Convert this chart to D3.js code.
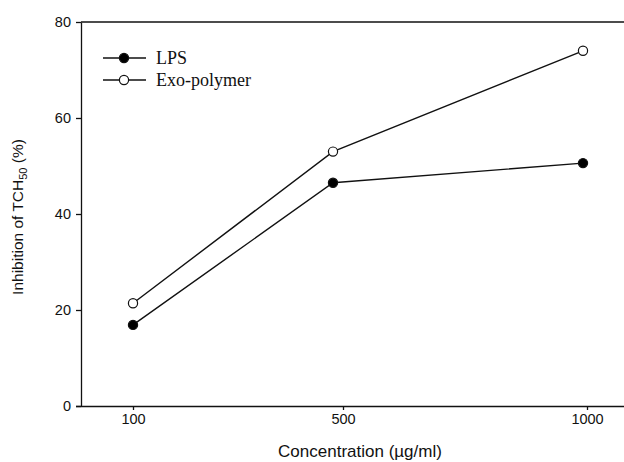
<!DOCTYPE html>
<html>
<head>
<meta charset="utf-8">
<script src="https://cdn.jsdelivr.net/npm/d3@7"></script>
<style>
  body { margin: 0; background: #fff; }
  svg { display: block; }
  .axis text { font-family: "Liberation Sans", Arial, sans-serif; font-size: 14.5px; fill: #111; }
  .axis path, .axis line { stroke: #111; stroke-width: 1.3; }
</style>
</head>
<body>
<div id="chart"></div>
<script>
// values
var concentrations = [100, 500, 1000];
var lpsValues = [16.9, 46.5, 50.6];
var exoValues = [21.4, 53.0, 74.0];
var seriesNames = ["LPS", "Exo-polymer"];
var yTicks = [0, 20, 40, 60, 80];
// the printed x tick marks sit a little right of the points
var xTickAt = [100, 520, 1008];
var xTickLabels = ["100", "500", "1000"];

var width = 624, height = 462,
    margin = {top: 22, bottom: 56, left: 81, right: 0};

var svg = d3.select("#chart")
  .append("svg")
  .attr("width", width)
  .attr("height", height);

var xScale = d3.scaleLinear()
  .domain([-4, 1100])
  .range([margin.left, 633]);

var yScale = d3.scaleLinear()
  .domain([0, 80])
  .range([height - margin.bottom, margin.top]);

// x axis
svg.append("g")
  .attr("class", "axis")
  .attr("transform", "translate(0," + yScale(0) + ")")
  .call(d3.axisBottom(xScale)
    .tickValues(xTickAt)
    .tickFormat(function(d, i) { return xTickLabels[i]; })
    .tickSize(4)
    .tickPadding(4)
    .tickSizeOuter(0))
  .select(".domain").attr("d", "M" + (margin.left - 5) + ",0.5H" + width);

// y axis
svg.append("g")
  .attr("class", "axis")
  .attr("transform", "translate(" + margin.left + ",0)")
  .call(d3.axisLeft(yScale)
    .tickValues(yTicks)
    .tickSize(5)
    .tickPadding(5)
    .tickSizeOuter(0));

// top frame line
svg.append("line")
  .attr("x1", margin.left).attr("x2", width)
  .attr("y1", yScale(80)).attr("y2", yScale(80))
  .attr("stroke", "#111").attr("stroke-width", 1.3);

// axis titles
svg.append("text")
  .attr("x", 360).attr("y", 457)
  .attr("text-anchor", "middle")
  .style("font-family", "Liberation Sans, Arial, sans-serif")
  .style("font-size", "17px")
  .attr("fill", "#111")
  .text("Concentration (\u00b5g/ml)");

var yTitle = svg.append("text")
  .attr("transform", "translate(23," + 217 + ") rotate(-90)")
  .attr("text-anchor", "middle")
  .style("font-family", "Liberation Sans, Arial, sans-serif")
  .style("font-size", "15.5px")
  .attr("fill", "#111");
yTitle.append("tspan").text("Inhibition of TCH");
yTitle.append("tspan").attr("dy", 4).style("font-size", "11px").text("50");
yTitle.append("tspan").attr("dy", -4).text(" (%)");

// series
var series = [
  {name: seriesNames[0], values: lpsValues, fill: "#000"},
  {name: seriesNames[1], values: exoValues, fill: "#fff"}
];

var line = d3.line()
  .x(function(d, i) { return xScale(concentrations[i]); })
  .y(function(d) { return yScale(d); });

series.forEach(function(s) {
  svg.append("path")
    .datum(s.values)
    .attr("d", line)
    .attr("fill", "none")
    .attr("stroke", "#111")
    .attr("stroke-width", 1.4);

  svg.selectAll(null)
    .data(s.values)
    .enter().append("circle")
    .attr("cx", function(d, i) { return xScale(concentrations[i]); })
    .attr("cy", function(d) { return yScale(d); })
    .attr("r", 4.6)
    .attr("fill", s.fill)
    .attr("stroke", "#111")
    .attr("stroke-width", 1.2);
});

// legend
var legend = svg.append("g").attr("transform", "translate(103,58)");
series.forEach(function(s, i) {
  var g = legend.append("g").attr("transform", "translate(0," + (i * 22) + ")");
  g.append("line").attr("x1", 0).attr("x2", 43)
    .attr("stroke", "#111").attr("stroke-width", 1.4);
  g.append("circle").attr("cx", 21).attr("r", 4.6)
    .attr("fill", s.fill).attr("stroke", "#111").attr("stroke-width", 1.2);
  g.append("text").attr("x", 53).attr("dy", "0.35em")
    .style("font-family", "Liberation Serif, Times New Roman, serif")
    .style("font-size", "18px")
    .attr("fill", "#111")
    .text(s.name);
});
</script>
</body>
</html>
